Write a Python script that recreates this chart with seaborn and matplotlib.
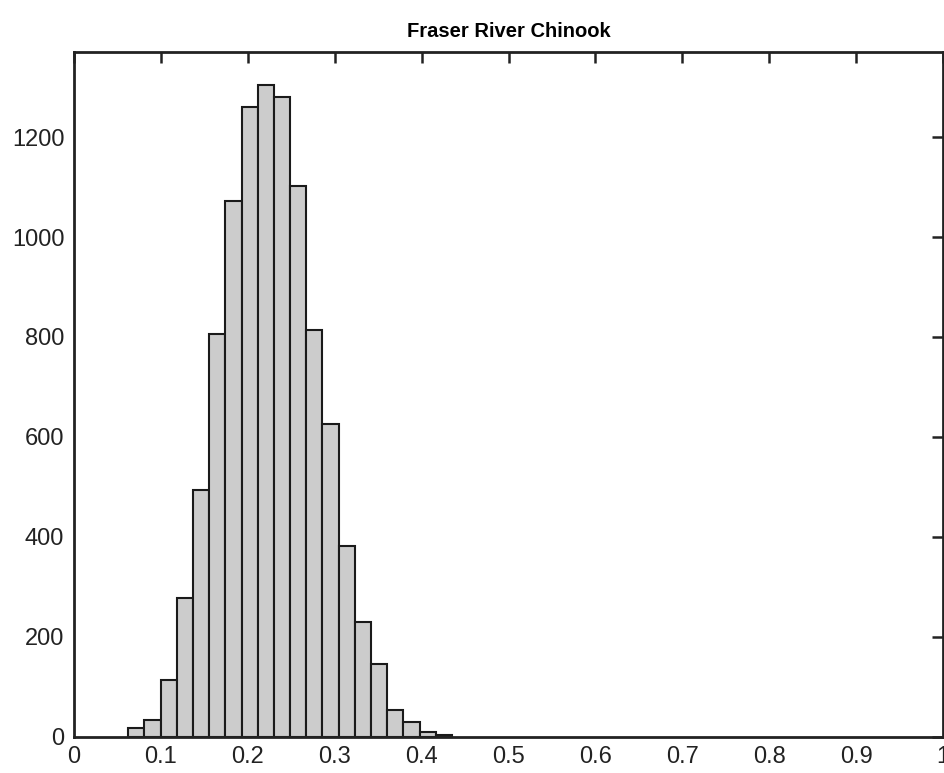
import numpy as np
import pandas as pd
import seaborn as sns
import matplotlib
matplotlib.use('Agg')
import matplotlib.pyplot as plt

# histogram: 20 equal bins
bin_start = 0.0625
bin_width = 0.01862
counts = [17, 33, 113, 278, 493, 805, 1073, 1261, 1305, 1281,
          1103, 813, 625, 381, 229, 146, 53, 29, 9, 4]

x_ticks = [0, 0.1, 0.2, 0.3, 0.4, 0.5, 0.6, 0.7, 0.8, 0.9, 1]
x_ticklabels = ['0', '0.1', '0.2', '0.3', '0.4', '0.5', '0.6', '0.7', '0.8', '0.9', '1']
y_ticks = [0, 200, 400, 600, 800, 1000, 1200]

edges = bin_start + bin_width * np.arange(len(counts) + 1)
centers = (edges[:-1] + edges[1:]) / 2
df = pd.DataFrame({'value': centers, 'count': counts})

sns.set_style('white')
plt.rcParams['font.family'] = ['Liberation Sans', 'DejaVu Sans']

fig = plt.figure(figsize=(9.45, 7.73), dpi=100)
ax = fig.add_axes([0.0783, 0.047, 0.9196, 0.8857])

sns.histplot(data=df, x='value', weights='count', bins=list(edges), ax=ax,
             color='#cccccc', alpha=1.0, edgecolor='#1a1a1a', linewidth=1.5)

ax.set_xlim(0, 1)
ax.set_ylim(0, max(counts) * 1.05)
ax.set_xticks(x_ticks)
ax.set_xticklabels(x_ticklabels)
ax.set_yticks(y_ticks)
ax.set_xlabel('')
ax.set_ylabel('')

for s in ax.spines.values():
    s.set_linewidth(2)
    s.set_color('#222222')
    s.set_visible(True)

ax.tick_params(direction='in', length=8, width=1.8, colors='#222222',
               top=True, right=True, labelsize=17, pad=7)

ax.set_title('Fraser River Chinook', fontsize=14.5, fontweight='bold',
             color='black', pad=11)

fig.savefig('out.png', dpi=100)
